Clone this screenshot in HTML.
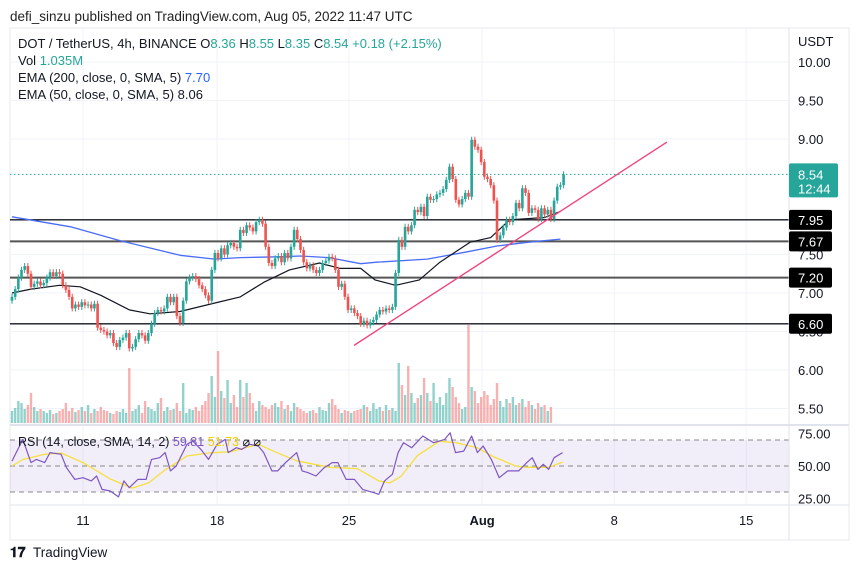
<!DOCTYPE html>
<html><head><meta charset="utf-8">
<style>
html,body{margin:0;padding:0;background:#fff;}
svg{display:block;font-family:"Liberation Sans",sans-serif;}
</style></head>
<body>
<svg id="c" width="860" height="569" viewBox="0 0 860 569">
<text x="10" y="21" font-size="13.5" fill="#222">defi_sinzu published on TradingView.com, Aug 05, 2022 11:47 UTC</text>
<rect x="10" y="28" width="839" height="512" fill="none" stroke="#e6e8ee"/>
<g id="grid"></g>
<g id="vol"></g>
<g id="lev"></g>
<g id="ema"></g>
<g id="candles"></g>
<g id="trend"></g>
<g id="rsi"></g>
<g id="axis"></g>
<g font-size="13">
<text x="18" y="48" fill="#131722">DOT / TetherUS, 4h, BINANCE  O<tspan fill="#26a69a">8.36</tspan>  H<tspan fill="#26a69a">8.55</tspan>  L<tspan fill="#26a69a">8.35</tspan>  C<tspan fill="#26a69a">8.54</tspan>  <tspan fill="#26a69a">+0.18 (+2.15%)</tspan></text>
<text x="18" y="65" fill="#131722">Vol  <tspan fill="#26a69a">1.035M</tspan></text>
<text x="18" y="82" fill="#131722">EMA (200, close, 0, SMA, 5)  <tspan fill="#2962ff">7.70</tspan></text>
<text x="18" y="99" fill="#131722">EMA (50, close, 0, SMA, 5)  8.06</text>
</g>
<g>
<text x="10" y="557" font-size="14" font-weight="bold" fill="#131722">𝟏𝟕</text>
<text x="33" y="557" font-size="13.5" fill="#131722">TradingView</text>
</g>
</svg>
<script>
const closes=[6.95,7.05,7.20,7.30,7.35,7.25,7.08,7.12,7.15,7.10,7.13,7.20,7.27,7.22,7.27,7.25,7.10,7.04,6.95,6.80,6.85,6.82,6.88,6.84,6.85,6.80,6.86,6.55,6.52,6.50,6.45,6.48,6.35,6.30,6.39,6.42,6.48,6.28,6.30,6.40,6.48,6.45,6.38,6.48,6.60,6.74,6.78,6.76,6.80,6.95,6.88,6.95,6.70,6.61,6.90,7.15,7.20,7.22,7.18,7.10,7.05,6.97,6.90,7.30,7.52,7.45,7.58,7.50,7.62,7.65,7.60,7.58,7.82,7.78,7.88,7.85,7.80,7.92,7.95,7.90,7.60,7.39,7.35,7.45,7.48,7.40,7.52,7.45,7.60,7.82,7.70,7.56,7.40,7.32,7.36,7.30,7.26,7.30,7.39,7.42,7.47,7.45,7.30,7.08,7.12,6.95,6.78,6.80,6.74,6.70,6.60,6.64,6.58,6.62,6.65,6.72,6.78,6.76,6.80,6.78,6.82,7.26,7.69,7.60,7.86,7.80,7.88,8.08,8.05,8.12,8.00,8.25,8.21,8.22,8.28,8.30,8.35,8.47,8.64,8.48,8.21,8.15,8.22,8.30,8.25,8.99,8.90,8.86,8.70,8.51,8.48,8.40,8.20,7.69,7.75,7.85,7.95,7.92,8.00,8.17,8.10,8.36,8.30,8.04,8.10,8.08,7.96,8.10,8.02,8.08,7.96,8.20,8.38,8.40,8.54];
const volumes=[12,15,22,20,14,18,30,16,12,14,12,10,13,9,10,12,14,20,12,15,11,13,16,12,18,10,14,12,16,13,12,10,9,12,11,14,10,55,12,14,18,10,22,16,14,12,20,25,12,16,13,14,20,12,40,10,14,13,16,12,18,22,30,47,26,72,32,25,43,20,28,16,43,26,40,30,20,12,22,18,16,14,18,20,16,22,14,18,12,20,16,14,12,10,12,13,10,16,13,12,20,24,18,14,10,13,12,10,12,13,14,18,16,12,20,14,16,12,18,13,15,12,60,38,28,57,30,20,25,28,45,30,22,40,20,26,18,30,45,36,26,20,14,16,98,36,32,20,26,32,28,18,24,40,22,16,24,20,26,18,20,24,16,22,18,14,20,16,18,12,16];
const levels=[7.95,7.67,7.20,6.60];
const lastPrice=8.54;
const priceTicks=["10.00","9.50","9.00","7.50","7.00","6.50","6.00","5.50"];
const emaIdx200=[0,18.5,34,53,64,72,84,91,100,110,115,131,143,153,163,173];
const ema200=[7.99,7.86,7.68,7.49,7.44,7.46,7.47,7.48,7.46,7.38,7.40,7.44,7.53,7.61,7.66,7.70];
const emaIdx50=[0,6,15,21.5,28,37,43.5,53,64,72,79.5,87.5,97,103.5,110,114.5,121,128.5,135,144.5,151,157,168,173];
const ema50=[7.00,7.05,7.10,7.08,6.97,6.78,6.73,6.76,6.87,6.95,7.14,7.30,7.39,7.32,7.32,7.17,7.10,7.17,7.40,7.66,7.72,7.95,7.98,8.06];
const trendIdx=[107.9,206.6];
const trendPrice=[6.32,8.96];
const rsiIdx=[0,3.4,6,7.7,10.3,12,15.5,17.2,19.8,22.4,25,26.7,28.4,31,33.6,35.3,37,39.7,42.3,44,46.6,48.3,50,51.8,55.2,57,59.6,62,64.7,67.3,68.2,70.8,72.5,75,77.7,79.4,82,83.8,86.3,89.8,91.5,93.3,95.9,98.5,101,102.8,105.4,108,110.6,114,115.7,117.5,120,121.8,123.5,126.1,129.6,133,136.5,138.2,139.9,142.5,145,146.8,148.6,151.2,153.7,156.4,159.8,162.4,164.1,165.9,167.6,169.3,171,173.7];
const rsiVals=[53.8,70.5,52.6,55.1,52.6,60.3,59,48.7,39.7,41,38.5,42.3,32,30.8,26.2,38.5,33.3,39.7,39.7,55.1,56.4,60.3,46.2,50,66.7,69.2,62.8,55.1,66.7,70.5,60.3,64.1,62.8,66.7,65.4,60.3,46.2,46.2,52.6,60.3,46.2,44.9,42.3,48.7,52.6,52.6,39.7,39.7,32,29.5,28.2,38.5,43.6,60.3,67.9,64.1,73.1,67.9,70.5,75.6,60.3,61.5,73.1,60.3,65.4,55.1,41,46.2,46.2,52.6,56.4,47.4,51.3,47.4,56.4,60.3];
const smaIdx=[0,3.4,10.3,15.5,22.4,31,37.9,43.1,48.3,55.2,62,68.9,77.7,82.9,89.8,100.2,108.9,115.7,119.2,122.7,127.9,134.8,139.9,146.8,152,158.9,162.4,169.3,173.7];
const smaVals=[50,55,59,60,52.6,40,33,37,47,57.7,60,61,66.7,61,54,49,48,38.5,37,42,58,69,68,64,57,50,49,49,53];
const rsiTicks=["75.00","50.00","25.00"];
const dateLabels=["11","18","25","Aug","8","15"];
const dateIdx=[22.4,64.7,106.3,148.3,190,231.6];

const NS="http://www.w3.org/2000/svg";
const X0=12, DX=3.17, PLOT_R=789;
const xOf=i=>X0+i*DX;
const yP=p=>62+(10-p)*77;
const yR=v=>466-(v-50)*1.3;
function mk(tag,attrs,parent){const e=document.createElementNS(NS,tag);for(const k in attrs)e.setAttribute(k,attrs[k]);parent.appendChild(e);return e;}
const G=id=>document.getElementById(id);

const grid=G('grid');
for(const t of priceTicks){const y=yP(parseFloat(t));const l=mk('line',{x1:10,x2:PLOT_R,y1:y,y2:y,stroke:'#f0f3fa'},grid);}
for(const d of dateIdx){const x=xOf(d);const l=mk('line',{x1:x,x2:x,y1:28,y2:505,stroke:'#f0f3fa'},grid);}

const vg=G('vol');const vmax=Math.max(...volumes);
volumes.forEach((v,i)=>{const up=i===0||closes[i]>=closes[i-1];const h=v/vmax*98;
const r=mk('rect',{x:xOf(i)-1.2,y:423-h,width:2.4,height:h,fill:up?'rgba(38,166,154,0.5)':'rgba(239,83,80,0.45)'},vg);
});

const lg=G('lev');
levels.forEach((p,k)=>{const y=yP(p);const l=mk('line',{x1:10,x2:PLOT_R,y1:y,y2:y,stroke:(k===0||k===3)?'#131722':'#555',"stroke-width":(k===0||k===3)?1.4:2},lg);
});
const dl=mk('line',{x1:10,x2:PLOT_R,y1:yP(lastPrice),y2:yP(lastPrice),stroke:'#26a69a',"stroke-dasharray":'1.5 2.5'},lg);


const eg=G('ema');
function poly(idx,vals,yf,color,w,parent,name){const pts=idx.map((i,k)=>xOf(i).toFixed(1)+','+yf(vals[k]).toFixed(1)).join(' ');const p=mk('polyline',{points:pts,fill:'none',stroke:color,"stroke-width":w,"stroke-linejoin":'round'},parent);return p;}
poly(emaIdx200,ema200,yP,'#4a6cf7',1.3,eg,'ema200-line');
poly(emaIdx50,ema50,yP,'#131722',1.2,eg,'ema50-line');

const cg=G('candles');
closes.forEach((c,i)=>{const o=i===0?c-0.05:closes[i-1];const up=c>=o;const col=up?'#26a69a':'#ef5350';
const hi=Math.max(o,c)+0.04,lo=Math.min(o,c)-0.04;const x=xOf(i);
const w=mk('line',{x1:x,x2:x,y1:yP(hi),y2:yP(lo),stroke:col,"stroke-width":1},cg);

const top=yP(Math.max(o,c)),h=Math.max(1,yP(Math.min(o,c))-top);
const b=mk('rect',{x:x-1.3,y:top,width:2.6,height:h,fill:col},cg);
});

const tl=mk('line',{x1:xOf(trendIdx[0]),y1:yP(trendPrice[0]),x2:xOf(trendIdx[1]),y2:yP(trendPrice[1]),stroke:'#f0457d',"stroke-width":1.4},G('trend'));


const rg=G('rsi');
const sep=mk('line',{x1:10,x2:849,y1:425,y2:425,stroke:'#e0e3eb',"stroke-width":2},rg);

const band=mk('rect',{x:10,y:yR(70),width:PLOT_R-10,height:yR(30)-yR(70),fill:'rgba(126,87,194,0.1)'},rg);

[70,50,30].forEach(v=>{const l=mk('line',{x1:10,x2:PLOT_R,y1:yR(v),y2:yR(v),stroke:'#888',"stroke-dasharray":'5 4'},rg);});
poly(smaIdx,smaVals,yR,'#f5e03c',1.3,rg,'rsi-sma-line');
poly(rsiIdx,rsiVals,yR,'#7e57c2',1.2,rg,'rsi-line');
const rl=mk('text',{x:18,y:446,"font-size":12.5,fill:'#131722'},rg);

rl.innerHTML='RSI (14, close, SMA, 14, 2) <tspan fill="#7e57c2">59.81</tspan> <tspan fill="#f5d000">51.73</tspan> ⌀ ⌀';

const ag=G('axis');
mk('line',{x1:PLOT_R,x2:PLOT_R,y1:28,y2:540,stroke:'#e0e3eb'},ag);
mk('line',{x1:10,x2:849,y1:505,y2:505,stroke:'#e0e3eb'},ag);
const ut=mk('text',{x:798,y:46,"font-size":13,fill:'#131722'},ag);ut.textContent='USDT';

for(const t of priceTicks){const tx=mk('text',{x:798,y:yP(parseFloat(t))+5,"font-size":13,fill:'#131722'},ag);tx.textContent=t;
}
for(const t of rsiTicks){const tx=mk('text',{x:798,y:yR(parseFloat(t))+5,"font-size":13,fill:'#131722'},ag);tx.textContent=t;
}
dateLabels.forEach((d,k)=>{const tx=mk('text',{x:xOf(dateIdx[k]),y:525,"font-size":13,fill:'#131722',"text-anchor":'middle',"font-weight":d==='Aug'?'bold':'normal'},ag);tx.textContent=d;
});
levels.forEach(p=>{const y=yP(p);const r=mk('rect',{x:789,y:y-10,width:43,height:20,rx:2,fill:'#000'},ag);

const tx=mk('text',{x:798,y:y+5,"font-size":13,fill:'#fff'},ag);tx.textContent=p.toFixed(2);
});
const ly=yP(lastPrice);
const pb=mk('rect',{x:789,y:ly-11,width:49,height:34,rx:2,fill:'#26a69a'},ag);

const pt=mk('text',{x:798,y:ly+5,"font-size":13,fill:'#fff'},ag);pt.textContent=lastPrice.toFixed(2);

const ct=mk('text',{x:798,y:ly+19,"font-size":13,fill:'#fff'},ag);ct.textContent='12:44';

</script>
</body></html>
